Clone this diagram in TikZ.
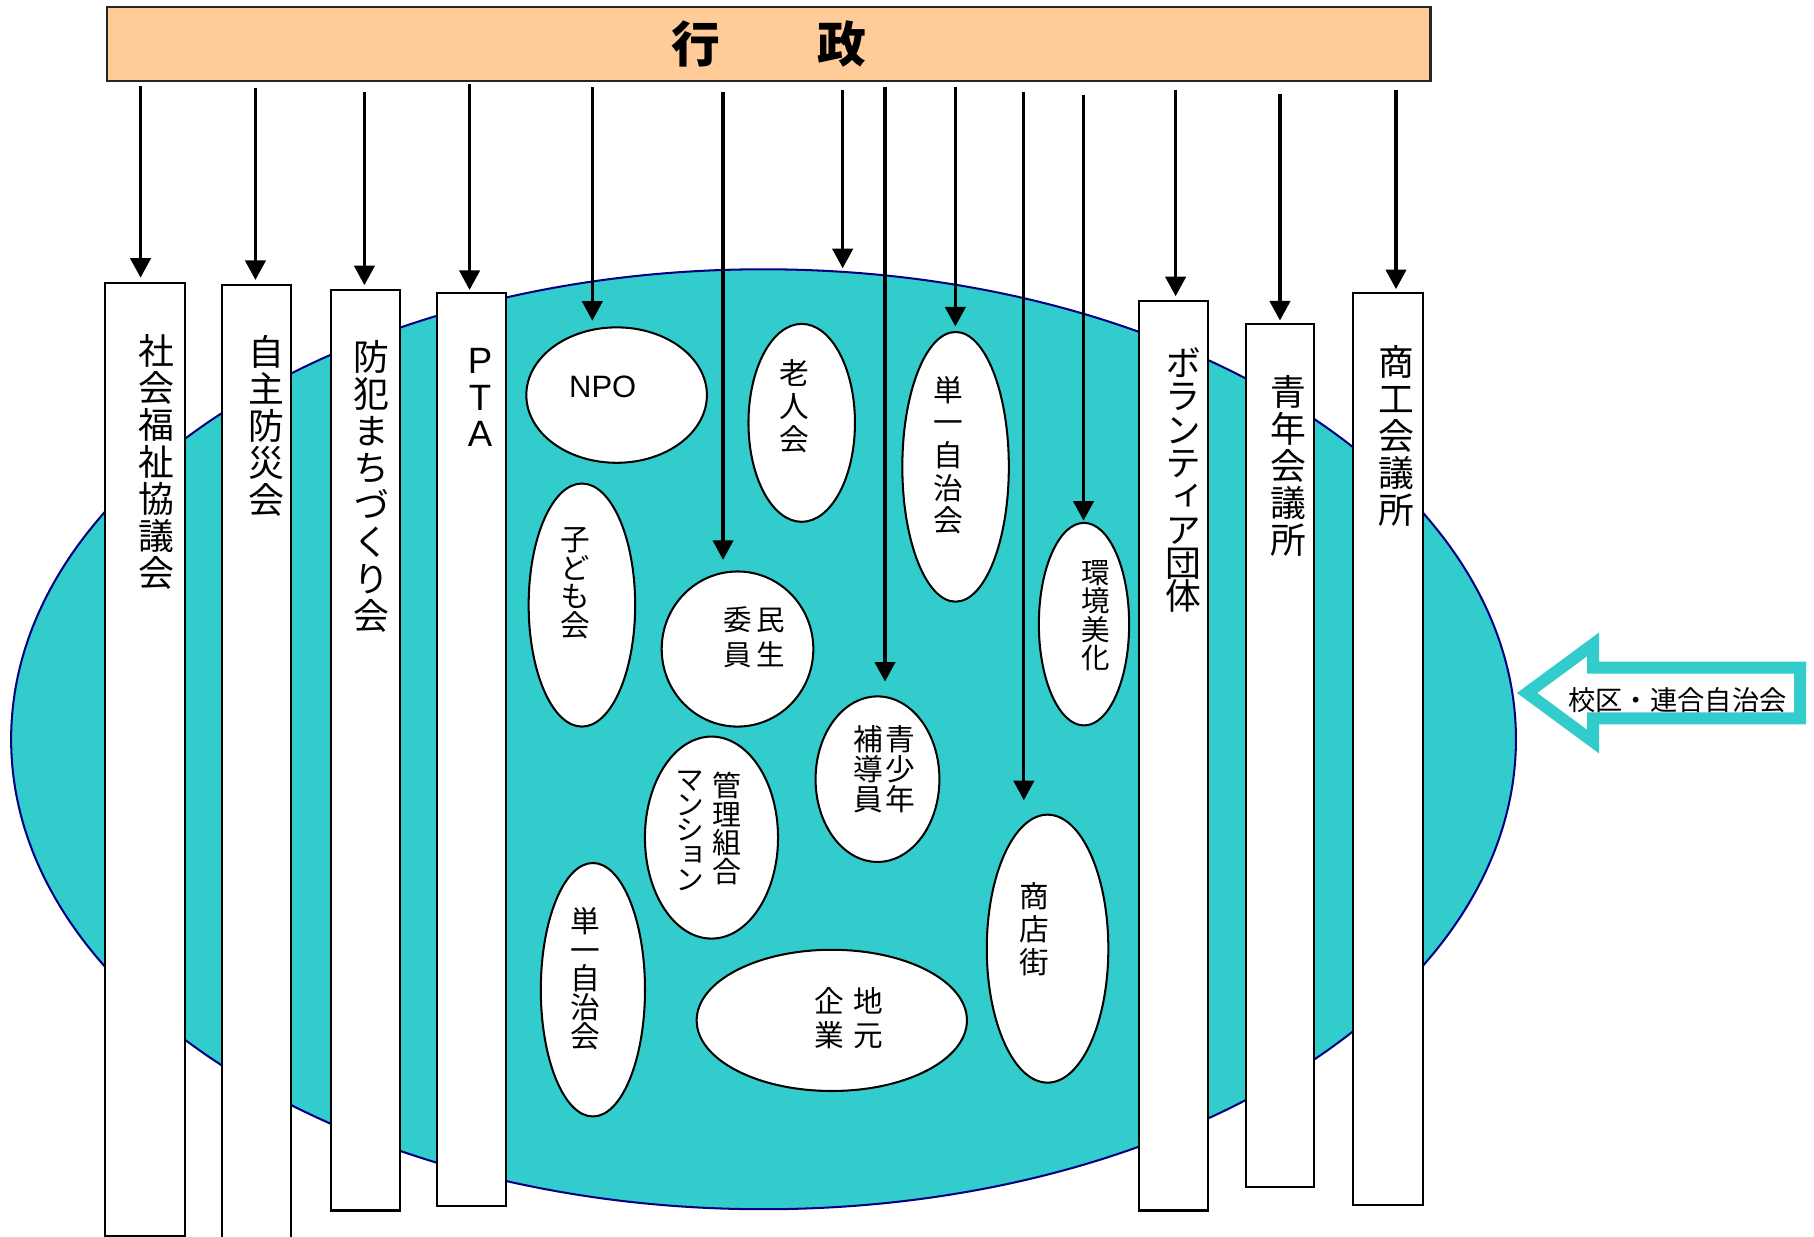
\documentclass[tikz,border=0pt]{standalone}
\usepackage{fontspec}
\setmainfont{Liberation Sans}
\newfontfamily\cjk{Noto Sans CJK JP}
\newfontfamily\cjkv[RawFeature=+vert]{Noto Sans CJK JP}
\usetikzlibrary{shapes.geometric,arrows.meta}
\definecolor{teal1}{HTML}{33CCCC}
\definecolor{peach}{HTML}{FFCC99}
\definecolor{navy1}{HTML}{000080}
\tikzset{
 bar/.style={draw=black, line width=0.5pt, fill=white, rectangle, inner sep=0pt, anchor=north},
 oval/.style={draw=black, line width=0.5pt, fill=white, ellipse, inner sep=0pt},
 vt/.style 2 args={inner sep=0pt, align=center, font={\cjkv\fontsize{#1}{#2}\selectfont\lineskiplimit=-5pt\relax}},
 arr/.style={line width=0.8pt, -{Triangle[width=5pt,length=4.8pt]}},
}
\begin{document}
\begin{tikzpicture}[x=0.01cm,y=-0.01cm]
\useasboundingbox (0,0) rectangle (1568,1069);
% big area
\node[ellipse, fill=teal1, draw=navy1, line width=0.5pt, minimum width=13cm, minimum height=8.12cm, inner sep=0pt] (big) at (660,639) {};
% top box
\node[rectangle, draw=black!85, fill=peach, line width=0.6pt, minimum width=11.43cm, minimum height=0.64cm, inner sep=0pt, font={\cjk\bfseries\fontsize{12}{12}\selectfont}] (gov) at (664.5,38) {行　　政};
% vertical bars
\node[bar, minimum width=0.69cm, minimum height=8.235cm] (r1) at (125.5,243.5) {};
\node[bar, minimum width=0.595cm, minimum height=8.4cm] (r2) at (221.75,245.5) {};
\node[bar, minimum width=0.60cm, minimum height=7.95cm] (r3) at (316,250) {};
\node[bar, minimum width=0.595cm, minimum height=7.895cm] (r4) at (407.25,252) {};
\node[bar, minimum width=0.595cm, minimum height=7.86cm] (r5) at (1014.25,259) {};
\node[bar, minimum width=0.59cm, minimum height=7.455cm] (r6) at (1106.5,279.5) {};
\node[bar, minimum width=0.605cm, minimum height=7.885cm] (r7) at (1199.75,252) {};
\node[vt={8.8}{9.1}] (r1t) at (135,399) {社\\会\\福\\祉\\協\\議\\会};
\node[vt={8.8}{9.1}] (r2t) at (230,368.5) {自\\主\\防\\災\\会};
\node[vt={8.8}{9.1}] (r3t) at (321,420.5) {防\\犯\\ま\\ち\\づ\\く\\り\\会};
\node[inner sep=0pt, align=center, font={\fontsize{9}{9}\selectfont\lineskiplimit=-5pt\relax}] (r4t) at (415,343.75) {P\\T\\A};
\node[vt={8.8}{8.2}] (r5t) at (1023,415) {ボ\\ラ\\ン\\テ\\ィ\\ア\\団\\体};
\node[vt={8.8}{9.1}] (r6t) at (1113.5,402.5) {青\\年\\会\\議\\所};
\node[vt={8.8}{9.1}] (r7t) at (1207,377) {商\\工\\会\\議\\所};
% ovals
\node[oval, minimum width=1.56cm, minimum height=1.17cm] (npo) at (533,341.5) {};
\node[inner sep=0pt, font={\fontsize{7.6}{8}\selectfont}] (npot) at (521,334.5) {NPO};
\node[oval, minimum width=0.92cm, minimum height=1.71cm] (rojin) at (693,365.5) {};
\node[vt={7.3}{8.1}] (rojint) at (687,351) {老\\人\\会};
\node[oval, minimum width=0.92cm, minimum height=2.33cm] (tanU) at (826,403.5) {};
\node[vt={7.3}{8}] (tanUt) at (820,393.5) {単\\一\\自\\治\\会};
\node[oval, minimum width=0.92cm, minimum height=2.10cm] (kodomo) at (503,523) {};
\node[vt={7.3}{7}] (kodomot) at (497,504) {子\\ど\\も\\会};
\node[oval, minimum width=1.31cm, minimum height=1.34cm] (minsei) at (637.5,561) {};
\node[vt={7}{8.5}] (minseiR) at (666,551) {民\\生};
\node[vt={7}{8.5}] (minseiL) at (638,551) {委\\員};
\node[oval, minimum width=0.78cm, minimum height=1.75cm] (kankyo) at (937,539.5) {};
\node[vt={7}{7}] (kankyot) at (947,532) {環\\境\\美\\化};
\node[oval, minimum width=1.07cm, minimum height=1.43cm] (seisho) at (758.5,673.5) {};
\node[vt={7.3}{7.4}] (seishoR) at (778,665) {青\\少\\年};
\node[vt={7.3}{7.4}] (seishoL) at (750.5,665) {補\\導\\員};
\node[oval, minimum width=1.15cm, minimum height=1.745cm] (mansion) at (615,724) {};
\node[vt={7.1}{7}] (mansionR) at (628,716) {管\\理\\組\\合};
\node[vt={7.1}{6.15}] (mansionL) at (596,718.5) {マ\\ン\\シ\\ョ\\ン};
\node[oval, minimum width=0.90cm, minimum height=2.19cm] (tanL) at (512.5,855.5) {};
\node[vt={7.3}{7.1}] (tanLt) at (506,846) {単\\一\\自\\治\\会};
\node[oval, minimum width=2.335cm, minimum height=1.22cm] (jimoto) at (719,882) {};
\node[vt={7.3}{8.25}] (jimotoR) at (750.5,880) {地\\元};
\node[vt={7.3}{8.25}] (jimotoL) at (717,880) {企\\業};
\node[oval, minimum width=1.05cm, minimum height=2.315cm] (shoten) at (905.5,820) {};
\node[vt={7.3}{8.1}] (shotent) at (894,803) {商\\店\\街};
% callout arrow
\draw[draw=teal1, line width=2.96pt, fill=white, line join=miter] (1320,599) -- (1377,557) -- (1377,577) -- (1556,577) -- (1556,621) -- (1377,621) -- (1377,641) -- cycle;
\node[inner sep=0pt, font={\cjk\fontsize{6.7}{7}\selectfont}] (kouku) at (1450,605) {校区・連合自治会};
% arrows
\coordinate (a1) at (121.5,74.3);
\coordinate (a2) at (220.8,76.3);
\coordinate (a3) at (315,79.8);
\coordinate (a4) at (405.9,72.9);
\coordinate (a5) at (512,75);
\coordinate (a6) at (625,79.8);
\coordinate (a7) at (728.4,77.8);
\coordinate (a8) at (765,75);
\coordinate (a9) at (825.8,75.5);
\coordinate (a10) at (885,79.8);
\coordinate (a11) at (936.6,82);
\coordinate (a12) at (1016.2,77.8);
\coordinate (a13) at (1106.4,81.5);
\coordinate (a14) at (1206.7,77.8);
\draw[arr, shorten >=1pt] (a1) -- (a1 |- r1.north);
\draw[arr, shorten >=1pt] (a2) -- (a2 |- r2.north);
\draw[arr, shorten >=1pt] (a3) -- (a3 |- r3.north);
\draw[arr, shorten >=0.4pt] (a4) -- (a4 |- r4.north);
\draw[arr, shorten >=1.4pt] (a5) -- (a5 |- npo.north);
\draw[arr, shorten >=2.6pt] (a6) -- (a6 |- minsei.north);
\draw[arr] (a7) -- (a7 |- big.north);
\draw[arr, shorten >=3.4pt] (a8) -- (a8 |- seisho.north);
\draw[arr, shorten >=1.1pt] (a9) -- (a9 |- tanU.north);
\draw[arr, shorten >=3.3pt] (a10) -- (a10 |- shoten.north);
\draw[arr, shorten >=0.3pt] (a11) -- (a11 |- kankyo.north);
\draw[arr, shorten >=0.85pt] (a12) -- (a12 |- r5.north);
\draw[arr, shorten >=0.7pt] (a13) -- (a13 |- r6.north);
\draw[arr, shorten >=0.6pt] (a14) -- (a14 |- r7.north);
\end{tikzpicture}
\end{document}
